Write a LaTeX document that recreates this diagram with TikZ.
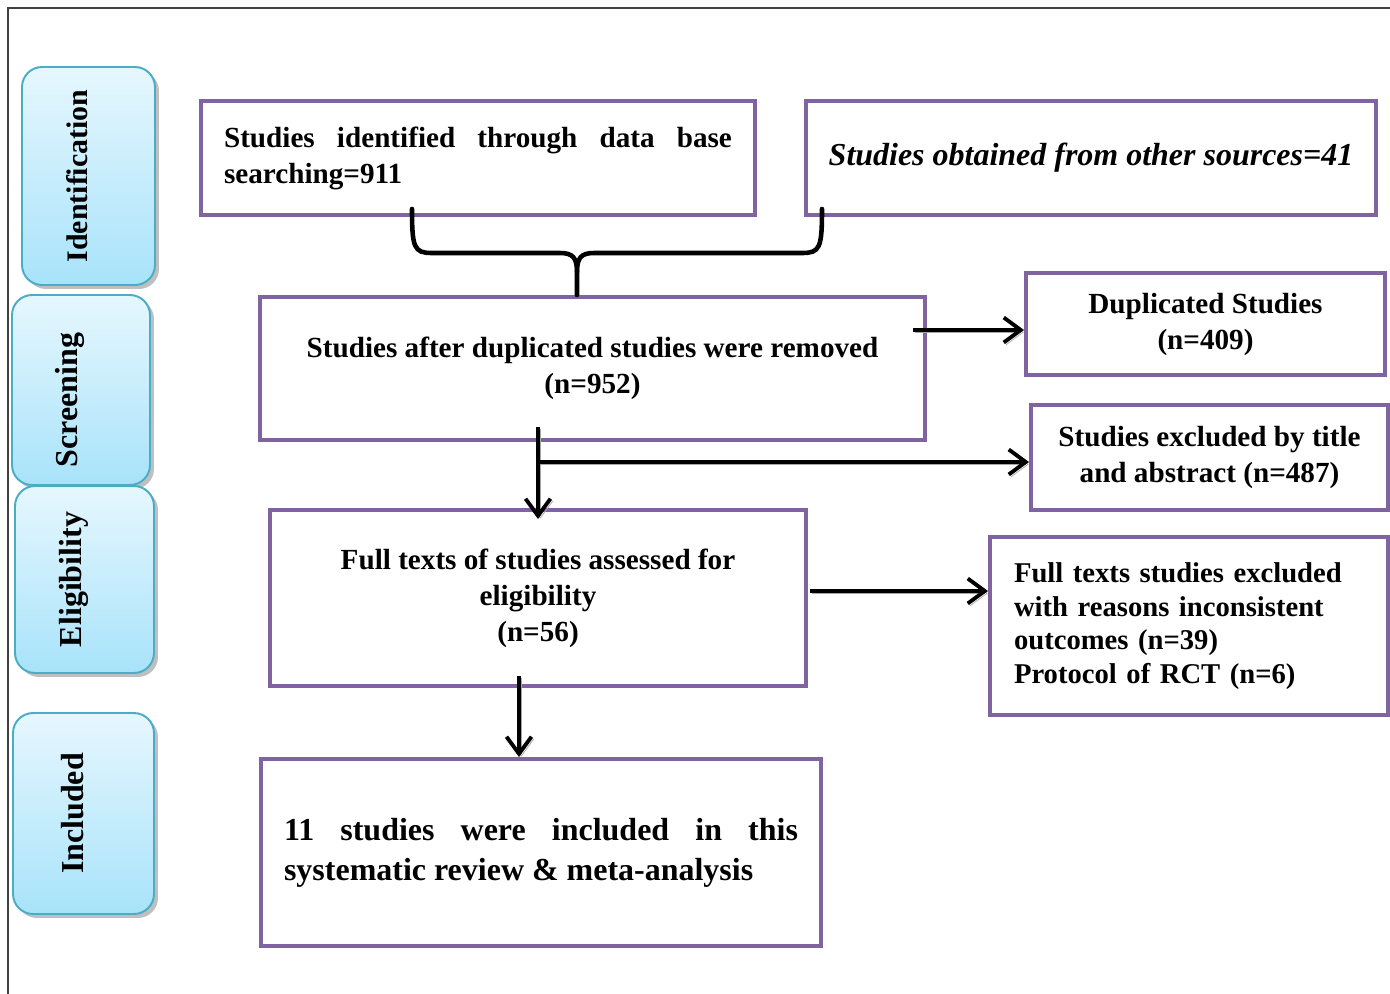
\documentclass[tikz,border=0pt]{standalone}
\usepackage{fontspec}
\setmainfont{Liberation Serif}
\usetikzlibrary{arrows.meta,shadows}

\definecolor{boxpurple}{HTML}{8064A2}
\definecolor{stageline}{HTML}{4BACC6}
\definecolor{stagetop}{HTML}{E6F7FE}
\definecolor{stagebot}{HTML}{A8E3FA}
\newcommand{\stagelabel}[2][0pt]{\rotatebox{90}{\raisebox{0.22cm}[\height][\depth]{#2}\hspace*{#1}}}

\begin{document}
\begin{tikzpicture}[x=0.02cm,y=-0.02cm,>={Straight Barb[length=3.4mm,width=5mm]},
  stage/.style={draw=stageline,line width=1.1pt,rounded corners=0.4cm,top color=stagetop,bottom color=stagebot,
    drop shadow={shadow xshift=0.08cm,shadow yshift=-0.08cm,fill=black!50,opacity=0.5},
    inner sep=0pt,font=\fontsize{18.2}{20}\selectfont\bfseries},
  flowbox/.style={draw=boxpurple,line width=2.3pt,inner sep=0pt,font=\fontsize{16.6}{20.5}\selectfont\bfseries},
  flow/.style={->,line width=2.2pt,preaction={draw=black!35,transform canvas={xshift=1.3pt,yshift=-1.3pt}}},
  brace/.style={line width=2.6pt,line cap=round}]
  \useasboundingbox (0,0) rectangle (1390,994);
  \draw[line width=0.8pt,black!75] (1390,8) -- (8,8) -- (8,994);

  % stages
  \node[stage,minimum width=2.66cm,minimum height=4.36cm,font=\fontsize{17}{20}\selectfont\bfseries] (idf) at (88.5,176) {\stagelabel{Identification}};
  \node[stage,minimum width=2.76cm,minimum height=3.8cm] (scr) at (81,390) {\stagelabel[0.4cm]{Screening}};
  \node[stage,minimum width=2.78cm,minimum height=3.74cm] (elg) at (84.5,579.5) {\stagelabel{Eligibility}};
  \node[stage,minimum width=2.82cm,minimum height=4.02cm] (inc) at (83.5,813.5) {\stagelabel{Included}};

  % boxes
  \node[flowbox,minimum width=11.08cm,minimum height=2.28cm,text width=10.16cm,align=justify] (b1) at (478,158)
    {Studies identified through data base\linebreak searching=911};
  \node[flowbox,minimum width=11.4cm,minimum height=2.28cm,font=\fontsize{18.2}{22}\selectfont\bfseries\itshape] (b2) at (1091,158)
    {Studies obtained from other sources=41};
  \node[flowbox,minimum width=13.3cm,minimum height=2.86cm,align=center] (b3) at (592.5,368.5)
    {Studies after duplicated studies were removed\\(n=952)};
  \node[flowbox,minimum width=7.18cm,minimum height=2.04cm,align=center] (b4) at (1205.5,324)
    {Duplicated Studies\\(n=409)};
  \node[flowbox,minimum width=7.14cm,minimum height=2.1cm,align=center] (b5) at (1209.5,457.5)
    {Studies excluded by title\\and abstract (n=487)};
  \node[flowbox,minimum width=10.72cm,minimum height=3.52cm,align=center] (b6) at (538,598)
    {Full texts of studies assessed for\\eligibility\\(n=56)};
  \node[flowbox,minimum width=7.96cm,minimum height=3.56cm,text width=7cm,align=left,
    font=\fontsize{16.3}{19.2}\selectfont\bfseries] (b7) at (1189,626)
    {Full texts studies excluded\\with reasons inconsistent\\outcomes (n=39)\\Protocol of RCT (n=6)\\[0.25cm]};
  \node[flowbox,minimum width=11.2cm,minimum height=3.74cm,text width=10.28cm,align=justify,
    font=\fontsize{18.2}{22.8}\selectfont\bfseries] (b8) at (541,852.5)
    {11 studies were included in this\linebreak systematic review \& meta-analysis};

  % brace joining the two sources
  \coordinate (brl) at (412,209);
  \coordinate (brr) at (822,209);
  \coordinate (brm) at (577,272);
  \draw[brace] (brl) .. controls (412,248) and (414,253) .. (432,253) -- (560,253)
    .. controls (573,253) and (577,258) .. (brm) -- (b3.north -| brm);
  \draw[brace] (brr) .. controls (822,248) and (820,253) .. (802,253) -- (594,253)
    .. controls (581,253) and (577,258) .. (brm);

  % arrows
  \coordinate (a1) at (913,330);
  \coordinate (a2) at (538,427);
  \coordinate (a3) at (538,462);
  \coordinate (a4) at (810,591);
  \coordinate (a5) at (519,676);
  \draw[flow] (a1) -- (a1 -| b4.west);
  \draw[flow] (a2) -- ([yshift=-0.22cm]b6.north);
  \draw[flow] (a3) -- (a3 -| b5.west);
  \draw[flow] (a4) -- (a4 -| b7.west);
  \draw[flow] (a5) -- (a5 |- b8.north);
\end{tikzpicture}
\end{document}
